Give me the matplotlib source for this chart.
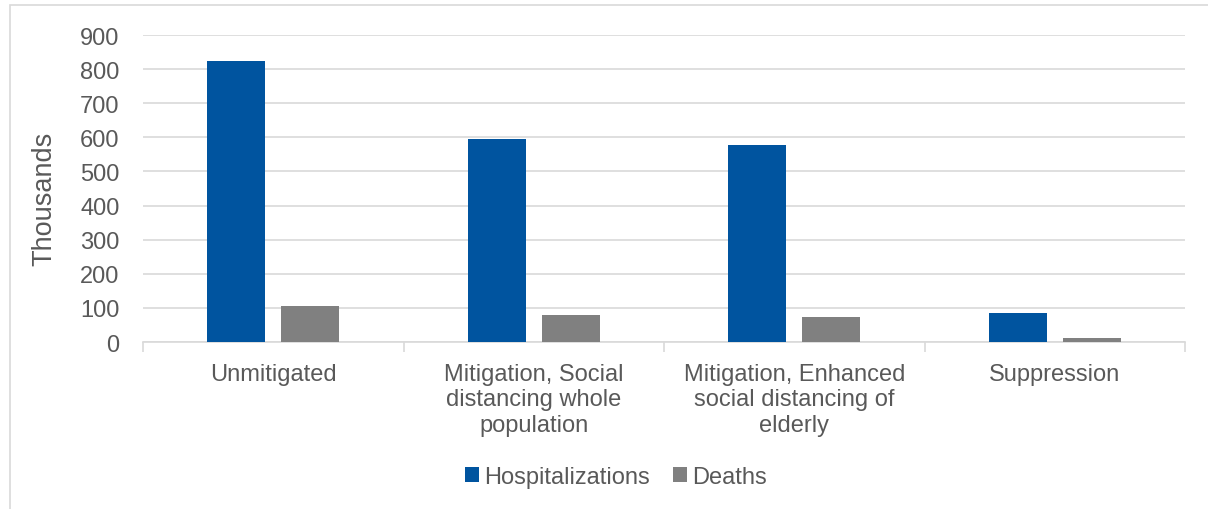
import numpy as np
import matplotlib.pyplot as plt
from matplotlib.patches import Rectangle

# scenario data (thousands)
categories = ["Unmitigated",
              "Mitigation, Social\ndistancing whole\npopulation",
              "Mitigation, Enhanced\nsocial distancing of\nelderly",
              "Suppression"]
hospitalizations = [823, 596, 578, 86]
deaths = [105, 80, 73, 12]
y_ticks = [0, 100, 200, 300, 400, 500, 600, 700, 800, 900]

BLUE = '#00549f'
GRAY = '#808080'
TEXT = '#595959'
GRID = '#d9d9d9'

plt.rcParams['font.family'] = ['Liberation Sans', 'DejaVu Sans']

fig = plt.figure(figsize=(12.08, 5.10), dpi=100)
ax = fig.add_axes([143/1208, 1 - 343/510, (1185-143)/1208, (343-36)/510])

# outer chart border (runs off the right/bottom edge)
fig.patches.append(Rectangle((10/1208, -0.1), 1.2, 1 - 6/510 + 0.1,
                             transform=fig.transFigure, fill=False,
                             edgecolor=GRID, linewidth=1.2))

x = np.arange(len(categories))
w = 0.223
gap = 0.061
off = (w + gap) / 2
ax.bar(x - off, hospitalizations, w, color=BLUE, label='Hospitalizations', zorder=3)
ax.bar(x + off, deaths, w, color=GRAY, label='Deaths', zorder=3)

ax.set_xlim(-0.5, len(categories) - 0.5)
ax.set_ylim(0, 900)
ax.set_yticks(y_ticks)
ax.yaxis.grid(True, color=GRID, linewidth=1.2, zorder=0)
ax.set_axisbelow(True)

for s in ['top', 'right', 'left']:
    ax.spines[s].set_visible(False)
ax.spines['bottom'].set_color(GRID)
ax.spines['bottom'].set_linewidth(1.2)

ax.set_xticks(x)
ax.set_xticklabels(categories, fontsize=17, color=TEXT, linespacing=1.2)
ax.tick_params(axis='x', length=0, pad=15)
ax.set_xticks(np.arange(-0.5, len(categories)), minor=True)
ax.tick_params(axis='x', which='minor', length=7, color=GRID, width=1.2)
ax.tick_params(axis='y', length=0, labelsize=17, labelcolor=TEXT, pad=17)

ax.set_ylabel('Thousands', fontsize=19.5, color=TEXT, va='center')
ax.yaxis.set_label_coords(-0.095, 0.469)

fig.legend(loc='center', bbox_to_anchor=(616/1208, 1 - 478/510), ncol=2,
           frameon=False, fontsize=17, labelcolor=TEXT,
           handlelength=0.6, handleheight=0.6, handletextpad=0.2, columnspacing=1.0)

fig.savefig('out.png', dpi=100)
